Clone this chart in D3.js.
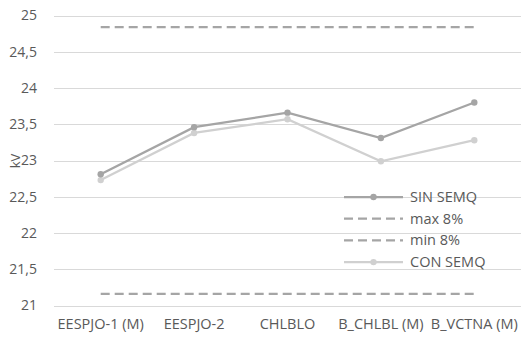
<!DOCTYPE html>
<html>
  <head>
    <meta charset="utf-8">
    <title>kV chart</title>
    <script src="https://d3js.org/d3.v7.min.js"></script>
    <style>
      body { margin: 0; background: #fff; }
      text { font-family: "Open Sans", sans-serif; fill: #595959; }
    </style>
  </head>
  <body>
    <script>
      var categories = ["EESPJO-1 (M)", "EESPJO-2", "CHLBLO", "B_CHLBL (M)", "B_VCTNA (M)"];
      var sinSemq = [22.81, 23.46, 23.66, 23.31, 23.80];
      var conSemq = [22.73, 23.38, 23.57, 22.99, 23.28];
      var max8 = [24.84, 24.84, 24.84, 24.84, 24.84];
      var min8 = [21.16, 21.16, 21.16, 21.16, 21.16];
      var yTicks = [21, 21.5, 22, 22.5, 23, 23.5, 24, 24.5, 25];

      var width = 522, height = 339;
      var svg = d3.select("body").append("svg")
        .attr("width", width)
        .attr("height", height);

      var x = d3.scaleBand()
        .domain(categories)
        .range([54, 521]);

      var y = d3.scaleLinear()
        .domain([21, 25])
        .range([305.5, 15.5]);

      var fmt = function(d) { return String(d).replace(".", ","); };

      // gridlines
      svg.append("g")
        .selectAll("line")
        .data(yTicks)
        .enter().append("line")
        .attr("x1", 54)
        .attr("x2", 521)
        .attr("y1", function(d) { return Math.round(y(d)) + 0.5; })
        .attr("y2", function(d) { return Math.round(y(d)) + 0.5; })
        .attr("stroke", "#d9d9d9")
        .attr("stroke-width", 1);

      // y axis labels
      var yAxis = svg.append("g")
        .attr("transform", "translate(43,0)")
        .call(d3.axisLeft(y).tickValues(yTicks).tickFormat(fmt).tickSize(0).tickPadding(6));
      yAxis.select(".domain").remove();
      yAxis.selectAll("text")
        .style("font-family", "Open Sans, sans-serif")
        .style("font-size", "14px")
        .attr("fill", "#595959");

      // x axis labels
      var xAxis = svg.append("g")
        .attr("transform", "translate(0,313)")
        .call(d3.axisBottom(x).tickSize(0).tickPadding(6));
      xAxis.select(".domain").remove();
      xAxis.selectAll("text")
        .style("font-family", "Open Sans, sans-serif")
        .style("font-size", "14.5px")
        .attr("fill", "#595959");

      // kV label
      svg.append("text")
        .attr("transform", "translate(20,161) rotate(-90)")
        .attr("text-anchor", "middle")
        .style("font-size", "13px")
        .text("kV");

      var cx = function(d, i) { return x(categories[i]) + x.bandwidth() / 2; };
      var line = d3.line()
        .x(cx)
        .y(function(d) { return y(d); });

      var series = [
        { name: "SIN SEMQ", values: sinSemq, color: "#a5a5a5", dash: null, marker: true },
        { name: "max 8%", values: max8, color: "#a5a5a5", dash: "9,5", marker: false },
        { name: "min 8%", values: min8, color: "#a5a5a5", dash: "9,5", marker: false },
        { name: "CON SEMQ", values: conSemq, color: "#d0d0d0", dash: null, marker: true }
      ];

      // draw lines, dashed ones first
      [series[1], series[2], series[3], series[0]].forEach(function(s) {
        svg.append("path")
          .datum(s.values)
          .attr("d", line)
          .attr("fill", "none")
          .attr("stroke", s.color)
          .attr("stroke-width", 2.25)
          .attr("stroke-dasharray", s.dash);
        if (s.marker) {
          svg.append("g")
            .selectAll("circle")
            .data(s.values)
            .enter().append("circle")
            .attr("cx", cx)
            .attr("cy", function(d) { return y(d); })
            .attr("r", 3.2)
            .attr("fill", s.color);
        }
      });

      // legend
      var legend = svg.append("g")
        .selectAll("g")
        .data(series)
        .enter().append("g")
        .attr("transform", function(d, i) { return "translate(344," + (197 + i * 21.7) + ")"; });

      legend.append("line")
        .attr("x1", 0)
        .attr("x2", 59)
        .attr("stroke", function(d) { return d.color; })
        .attr("stroke-width", 2.25)
        .attr("stroke-dasharray", function(d) { return d.dash; });

      legend.filter(function(d) { return d.marker; })
        .append("circle")
        .attr("cx", 29.5)
        .attr("r", 3.2)
        .attr("fill", function(d) { return d.color; });

      legend.append("text")
        .attr("x", 66)
        .attr("dy", "0.35em")
        .style("font-size", "14.5px")
        .text(function(d) { return d.name; });
    </script>
  </body>
</html>
